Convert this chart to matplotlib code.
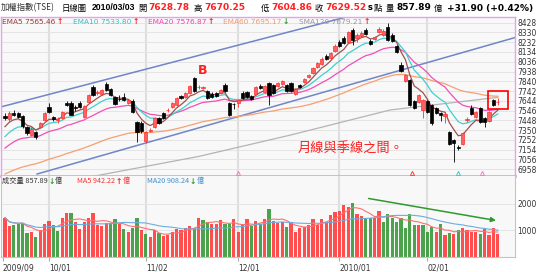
import matplotlib
matplotlib.use('Agg')
import matplotlib.pyplot as plt
from matplotlib.patches import Rectangle
import numpy as np
import pandas as pd

plt.rcParams['font.family'] = ['DejaVu Sans']
cjk = ['Noto Sans CJK TC', 'DejaVu Sans']

# daily OHLC, 2009/09 .. 2010/03/03
opens = [7490, 7462, 7522, 7522, 7490, 7380, 7300, 7330, 7380, 7450,
         7580, 7480, 7450, 7470, 7625, 7625, 7580, 7625, 7480, 7630,
         7780, 7720, 7715, 7815, 7760, 7680, 7665, 7680, 7620, 7640,
         7430, 7420, 7240, 7345, 7380, 7470, 7520, 7550, 7580, 7600,
         7690, 7680, 7720, 7870, 7780, 7770, 7740, 7715, 7720, 7720,
         7800, 7620, 7615, 7620, 7720, 7730, 7695, 7715, 7795, 7730,
         7820, 7800, 7790, 7810, 7800, 7820, 7710, 7800, 7830, 7880,
         7925, 7985, 8015, 8095, 8075, 8145, 8235, 8275, 8235, 8355,
         8275, 8295, 8355, 8245, 8265, 8335, 8300, 8385, 8305, 8195,
         8005, 7840, 7850, 7640, 7630, 7550, 7640, 7600, 7570, 7520,
         7490, 7330, 7250, 7180, 7210, 7450, 7570, 7480, 7570, 7470,
         7440, 7650, 7628.78]
highs = [7520, 7540, 7552, 7535, 7500, 7390, 7380, 7340, 7430, 7530,
         7620, 7490, 7480, 7545, 7640, 7640, 7600, 7640, 7600, 7710,
         7800, 7750, 7765, 7830, 7770, 7690, 7700, 7720, 7660, 7660,
         7440, 7440, 7345, 7370, 7480, 7480, 7530, 7570, 7630, 7680,
         7700, 7730, 7800, 7880, 7800, 7795, 7750, 7730, 7735, 7760,
         7820, 7630, 7625, 7660, 7740, 7745, 7700, 7795, 7810, 7800,
         7830, 7810, 7830, 7850, 7815, 7830, 7770, 7815, 7870, 7910,
         7985, 8035, 8080, 8110, 8135, 8210, 8250, 8290, 8345, 8370,
         8320, 8340, 8370, 8260, 8295, 8385, 8360, 8420, 8320, 8200,
         8030, 7910, 7860, 7650, 7710, 7660, 7650, 7610, 7580, 7530,
         7530, 7340, 7260, 7200, 7330, 7480, 7600, 7540, 7580, 7480,
         7540, 7660, 7670.25]
lows = [7450, 7440, 7490, 7470, 7370, 7300, 7290, 7260, 7370, 7440,
        7520, 7440, 7420, 7460, 7590, 7500, 7545, 7570, 7470, 7620,
        7690, 7700, 7705, 7745, 7690, 7600, 7640, 7640, 7610, 7520,
        7230, 7320, 7220, 7330, 7370, 7410, 7460, 7530, 7570, 7590,
        7660, 7670, 7710, 7730, 7765, 7760, 7660, 7670, 7680, 7710,
        7730, 7490, 7560, 7580, 7660, 7670, 7650, 7705, 7765, 7720,
        7600, 7710, 7780, 7800, 7730, 7730, 7700, 7770, 7820, 7870,
        7915, 7975, 8005, 8055, 8065, 8135, 8185, 8215, 8225, 8205,
        8235, 8285, 8305, 8200, 8255, 8320, 8290, 8245, 8230, 8120,
        7935, 7830, 7590, 7560, 7620, 7470, 7520, 7400, 7510, 7440,
        7420, 7200, 7030, 7150, 7200, 7430, 7500, 7470, 7420, 7380,
        7430, 7590, 7604.86]
closes = [7470, 7522, 7502, 7482, 7390, 7320, 7360, 7280, 7420, 7520,
          7530, 7460, 7458, 7530, 7605, 7505, 7572, 7585, 7590, 7700,
          7700, 7735, 7755, 7755, 7700, 7610, 7660, 7650, 7650, 7530,
          7330, 7340, 7335, 7350, 7470, 7420, 7470, 7555, 7620, 7670,
          7670, 7720, 7790, 7740, 7785, 7780, 7670, 7685, 7690, 7750,
          7740, 7500, 7610, 7650, 7670, 7680, 7665, 7785, 7775, 7790,
          7700, 7720, 7820, 7840, 7740, 7740, 7760, 7785, 7860, 7900,
          7975, 8025, 8065, 8065, 8125, 8195, 8195, 8225, 8335, 8255,
          8305, 8325, 8315, 8215, 8285, 8365, 8340, 8255, 8245, 8135,
          7945, 7900, 7600, 7570, 7700, 7650, 7530, 7420, 7520, 7500,
          7510, 7210, 7220, 7170, 7320, 7460, 7510, 7530, 7430, 7430,
          7530, 7597.62, 7629.52]
# volume, 億
volumes = [1475, 1160, 1200, 1225, 1290, 890, 950, 760, 1010, 1240,
           1350, 1200, 975, 1475, 1640, 1640, 1325, 1050, 1300, 1475,
           1660, 1200, 1175, 1260, 1260, 1410, 1225, 1050, 925, 1100,
           1450, 1010, 850, 750, 1010, 885, 800, 825, 950, 1050,
           1000, 1075, 1150, 1100, 1475, 1375, 1325, 1225, 1225, 1375,
           1225, 1225, 1410, 950, 1225, 1410, 1160, 1350, 1225, 1410,
           1780, 1350, 1260, 1300, 1140, 1300, 950, 1075, 1140, 1200,
           1425, 1200, 1410, 1325, 1575, 1675, 1725, 1950, 1875, 2040,
           1600, 1550, 1475, 1450, 1475, 1725, 1325, 1600, 1450, 1300,
           1475, 1100, 1600, 1200, 1200, 1200, 925, 1140, 925, 1225,
           825, 890, 850, 1010, 1075, 1010, 950, 925, 850, 1050,
           825, 1090, 857.89]

# moving-average values at the left edge of the chart
ema_start = {5: 7385, 10: 7285, 20: 7170, 60: 6910}
sma120_idx = [18, 44, 65, 87.5, 112]
sma120_val = [6870, 7086, 7302, 7552, 7679]

# trend channel
upper_idx, upper_val = [-1.2, 78], [7580, 8490]
lower_idx, lower_val = [7.3, 116], [6910, 8280]

month_idx = [-0.5, 10, 32, 53, 76, 96]
month_labels = ['2009/09', '10/01', '11/02', '12/01', '2010/01', '02/01']
price_ticks = [6958, 7056, 7154, 7252, 7350, 7448, 7546, 7644, 7742,
               7840, 7938, 8036, 8134, 8232, 8330, 8428]
vol_ticks = [1000, 2000]
signal_idx = [53, 92.5, 103, 108.3]
signal_col = ['#f080c0', '#ff4040', '#40c8c8', '#f080c0']

n = len(closes)
idx = np.arange(n)

def ema(values, span, start):
    a = 2 / (span + 1)
    out = [start]
    for v in values[1:]:
        out.append(out[-1] + a * (v - out[-1]))
    return out

W, H = 549, 272
fig = plt.figure(figsize=(W / 100, H / 100), dpi=100)
ax = fig.add_axes([1 / W, 1 - 176 / H, 514 / W, 159 / H])
axv = fig.add_axes([1 / W, 1 - 257 / H, 514 / W, 81 / H])
xlim = (-0.91, 115.9)

for a in (ax, axv):
    a.set_facecolor('#f8f8f8')
    a.set_xlim(*xlim)
    for m in month_idx[1:]:
        a.axvline(m, color='#dedede', lw=1.5, zorder=0)

ax.set_ylim(6890, 8485)
ax.set_yticks(price_ticks)
ax.grid(axis='y', color='#e4e4e4', lw=0.7)
ax.set_axisbelow(True)
ax.yaxis.tick_right()
ax.tick_params(axis='y', length=0, pad=1.5, labelsize=5.5, labelcolor='#333333')
ax.set_xticks([])
for s in ax.spines.values():
    s.set_color('#e6a2e6')
    s.set_linewidth(1.0)
ax.spines['bottom'].set_linewidth(2.0)

# channel lines
ax.plot(upper_idx, upper_val, color='#6f86c8', lw=1.1, zorder=1)
ax.plot(lower_idx, lower_val, color='#6f86c8', lw=1.1, zorder=1)

# moving averages
ax.plot(sma120_idx, sma120_val, color='#b4b4b4', lw=0.9, zorder=2)
ax.plot(idx, ema(closes, 60, ema_start[60]), color='#f5a070', lw=0.9, zorder=2)
ax.plot(idx, ema(closes, 20, ema_start[20]), color='#f050b8', lw=0.9, zorder=2)
ax.plot(idx, ema(closes, 10, ema_start[10]), color='#40d0d0', lw=0.9, zorder=2)
ax.plot(idx, ema(closes, 5, ema_start[5]), color='#a05050', lw=0.9, zorder=2)

# candles
for i in range(n):
    o, h, l, c = opens[i], highs[i], lows[i], closes[i]
    up = c >= o
    col = '#ff3030' if up else '#000000'
    ax.vlines(i, l, h, color=col, lw=0.6, zorder=3)
    ax.bar(i, max(abs(c - o), 5), bottom=min(o, c), width=0.72,
           color='#ff6060' if up else '#000000', edgecolor=col, lw=0.5, zorder=4)

# small signal marks on the bottom edge
for si, sc in zip(signal_idx, signal_col):
    ax.plot(si, 6925, marker='^', ms=3, mfc='none', mec=sc, mew=0.7, zorder=5)

ax.text(45, 7953, 'B', color='#ff2020', fontsize=9, fontweight='bold',
        ha='center', va='center')
ax.text(66.4, 7172, '月線與季線之間。', color='#ff2020', fontsize=9.5,
        family=cjk, ha='left', va='center')
ax.add_patch(Rectangle((109.8, 7560), 4.4, 185, fill=False,
                       edgecolor='#ff0000', lw=1.2, zorder=6))

# volume
vol_colors = ['#ff3b3b'] + ['#ff3b3b' if closes[i] >= closes[i - 1] else '#3a9a3a'
                            for i in range(1, n)]
axv.bar(idx, volumes, width=0.75, color=vol_colors, alpha=0.9, zorder=2)
vs = pd.Series(volumes)
axv.plot(idx, vs.rolling(5, min_periods=1).mean(), color='#ff7070', lw=0.8, zorder=3)
axv.plot(idx, vs.rolling(20, min_periods=1).mean(), color='#6aaee0', lw=0.8, zorder=3)
axv.annotate('', xy=(112.2, 1350), xytext=(82, 2210),
             arrowprops=dict(arrowstyle='-|>', color='#2e9a2e', lw=1.1,
                             mutation_scale=7), zorder=5)
axv.set_ylim(0, 3034)
axv.set_yticks(vol_ticks)
axv.grid(axis='y', color='#e4e4e4', lw=0.7)
axv.set_axisbelow(True)
axv.yaxis.tick_right()
axv.tick_params(axis='y', length=0, pad=1.5, labelsize=5.5, labelcolor='#333333')
axv.set_xticks(month_idx)
axv.set_xticklabels(month_labels)
axv.tick_params(axis='x', length=3, color='#aaaaaa', pad=1.5, labelsize=5.5,
                labelcolor='#333333')
for lab in axv.get_xticklabels():
    lab.set_ha('left')
for s in axv.spines.values():
    s.set_color('#c4c4c4')
axv.spines['top'].set_visible(False)

renderer = fig.canvas.get_renderer()

def chain(px, py, pieces, gap=1.0):
    # draw text pieces left to right, each starting where the last one ended
    x = px
    for s, kw in pieces:
        t = fig.text(x / W, 1 - py / H, s, va='center', **kw)
        x = t.get_window_extent(renderer).x1 + gap

red_b = dict(color='#ff2020', fontsize=6.5, fontweight='bold')
blk_b = dict(color='#000000', fontsize=6.5, fontweight='bold')
cj = dict(color='#000000', fontsize=6, family=cjk)

# title row
chain(1, 8, [('加權指數(TSE)', dict(color='#333333', fontsize=6, family=cjk))])
chain(62, 8, [('日線圖', cj)])
chain(92, 8, [('2010/03/03', dict(color='#000000', fontsize=6.2,
                                  fontweight='bold', family='Liberation Sans'))])
chain(138, 8, [('開', cj), ('7628.78', red_b)], gap=2)
chain(194, 8, [('高', cj), ('7670.25', red_b)], gap=2)
chain(261, 8, [('低', cj), ('7604.86', red_b)], gap=2)
chain(315, 8, [('收', cj), ('7629.52', red_b), ('s', dict(blk_b, fontsize=6)),
               ('點', cj)], gap=1.5)
chain(386, 8, [('量', cj), ('857.89', blk_b), ('億', cj)], gap=2)
chain(447, 8, [('+31.90 (+0.42%)', blk_b)])

# price legend row
legend = [(2, 'EMA5 7565.46', '#9a3b3b', '↑', '#ff2020'),
          (73, 'EMA10 7533.80', '#30c4c4', '↑', '#ff2020'),
          (148, 'EMA20 7576.87', '#f040b0', '↑', '#ff2020'),
          (223, 'EMA60 7695.17', '#f59a6a', '↓', '#2e9a2e'),
          (299, 'SMA120 7679.21', '#999999', '↑', '#ff2020')]
for x0, s, c, arr, ca in legend:
    chain(x0, 21.5, [(s, dict(color=c, fontsize=5.3)),
                     (arr, dict(color=ca, fontsize=5.5, fontweight='bold'))])

# volume legend row
vleg = [(2, '成交量 857.89', '#333333', '↓', '#2e9a2e'),
        (77, 'MA5 942.22', '#ff3030', '↑', '#ff2020'),
        (147, 'MA20 908.24', '#3d8fd0', '↓', '#2e9a2e')]
for x0, s, c, arr, ca in vleg:
    chain(x0, 181, [(s, dict(color=c, fontsize=5.2, family=cjk)),
                    (arr, dict(color=ca, fontsize=5.5, fontweight='bold')),
                    ('億', dict(color=c, fontsize=5.2, family=cjk))], gap=0.5)

fig.savefig('out.png', dpi=100)
